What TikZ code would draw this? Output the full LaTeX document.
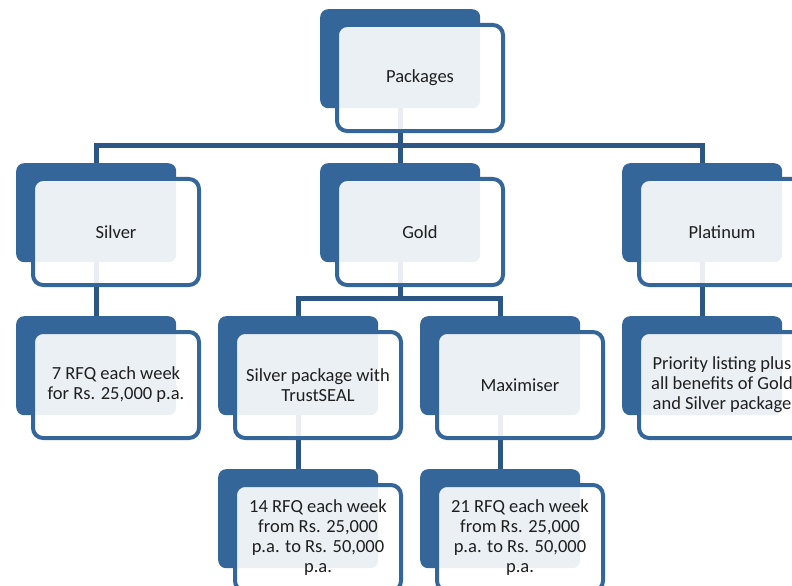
\documentclass[tikz,border=0pt]{standalone}
\usepackage{fontspec}
\setmainfont{Carlito}
\usetikzlibrary{backgrounds}
\definecolor{boxblue}{RGB}{52,102,153}
\definecolor{linkblue}{RGB}{44,86,132}
\begin{document}
\begin{tikzpicture}[x=1bp,y=-1bp,
  backbox/.style={rectangle, rounded corners=8bp, fill=boxblue, minimum width=160bp, minimum height=99bp, inner sep=0pt, anchor=north west},
  frontbox/.style={rectangle, rounded corners=10bp, draw=boxblue, line width=4bp, fill=white, fill opacity=0.9, draw opacity=1, text opacity=1, minimum width=166bp, minimum height=106bp, inner sep=0pt, anchor=north west, align=center, font=\fontsize{18.5bp}{20bp}\selectfont, text=black!88},
  conn/.style={draw=linkblue, line width=5bp}]
\useasboundingbox (0,0) rectangle (792,586);
\clip (0,0) rectangle (792,586);
% level 1
\node[backbox] (pkB) at (320,9) {};
\node[frontbox] (pkF) at (335,23) {Packages};
% level 2
\node[backbox] (slB) at (16,163) {};
\node[frontbox] (slF) at (31,177) {Silver};
\node[backbox] (gdB) at (320,163) {};
\node[frontbox] (gdF) at (335,177) {Gold};
\node[backbox] (plB) at (622,163) {};
\node[frontbox] (plF) at (637,177) {Platinum};
% level 3
\node[backbox] (srB) at (16,316) {};
\node[frontbox] (srF) at (31,330) {7 RFQ each week\\for Rs. 25,000 p.a.};
\node[backbox] (tsB) at (218,316) {};
\node[frontbox] (tsF) at (233,330) {Silver package with\\TrustSEAL};
\node[backbox] (mxB) at (420,316) {};
\node[frontbox] (mxF) at (435,330) {Maximiser};
\node[backbox] (prB) at (622,316) {};
\node[frontbox] (prF) at (637,330) {Priority listing plus\\all benefits of Gold\\and Silver package};
% level 4
\node[backbox] (t14B) at (218,469) {};
\node[frontbox] (t14F) at (233,483) {14 RFQ each week\\from Rs. 25,000\\p.a. to Rs. 50,000\\p.a.};
\node[backbox] (t21B) at (420,469) {};
\node[frontbox] (t21F) at (435,483) {21 RFQ each week\\from Rs. 25,000\\p.a. to Rs. 50,000\\p.a.};
% connectors
\coordinate (bus1) at (0,146);
\coordinate (bus2) at (0,298);
\begin{pgfonlayer}{background}
\draw[conn] (pkB.center) -- (gdB.center);
\draw[conn] (slB.center) -- (slB.center |- bus1) -- (plB.center |- bus1) -- (plB.center);
\draw[conn] (gdB.center) -- (gdB.center |- bus2);
\draw[conn] (tsB.center) -- (tsB.center |- bus2) -- (mxB.center |- bus2) -- (mxB.center);
\draw[conn] (slB.center) -- (srB.center);
\draw[conn] (plB.center) -- (prB.center);
\draw[conn] (tsB.center) -- (t14B.center);
\draw[conn] (mxB.center) -- (t21B.center);
\end{pgfonlayer}
\end{tikzpicture}
\end{document}
